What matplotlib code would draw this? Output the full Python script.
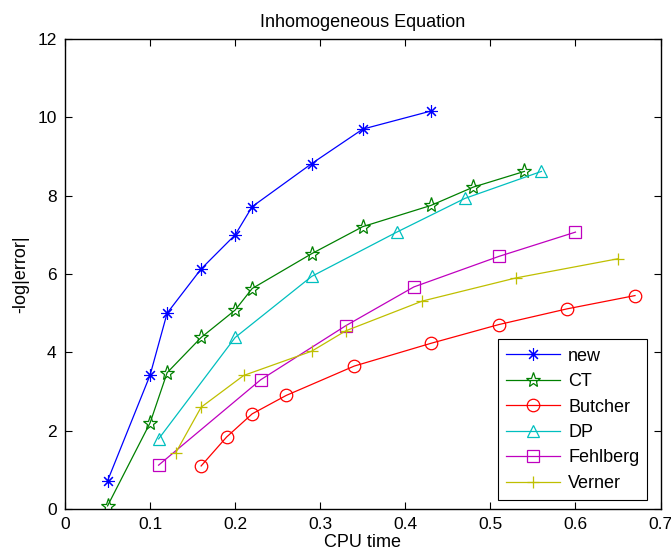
import matplotlib.pyplot as plt
import numpy as np

plt.rcParams['font.family'] = ['Liberation Sans', 'DejaVu Sans']

# data
new_x = [0.05, 0.10, 0.12, 0.16, 0.20, 0.22, 0.29, 0.35, 0.43]
new_y = [0.72, 3.42, 5.00, 6.13, 7.00, 7.72, 8.82, 9.70, 10.16]

ct_x = [0.05, 0.10, 0.12, 0.16, 0.20, 0.22, 0.29, 0.35, 0.43, 0.48, 0.54]
ct_y = [0.08, 2.20, 3.48, 4.38, 5.08, 5.63, 6.52, 7.21, 7.75, 8.22, 8.62]

butcher_x = [0.16, 0.19, 0.22, 0.26, 0.34, 0.43, 0.51, 0.59, 0.67]
butcher_y = [1.10, 1.84, 2.43, 2.90, 3.65, 4.23, 4.71, 5.11, 5.45]

dp_x = [0.11, 0.20, 0.29, 0.39, 0.47, 0.56]
dp_y = [1.79, 4.38, 5.94, 7.07, 7.93, 8.62]

fehlberg_x = [0.11, 0.23, 0.33, 0.41, 0.51, 0.60]
fehlberg_y = [1.12, 3.30, 4.68, 5.67, 6.45, 7.07]

verner_x = [0.13, 0.16, 0.21, 0.29, 0.33, 0.42, 0.53, 0.65]
verner_y = [1.43, 2.60, 3.41, 4.03, 4.55, 5.31, 5.90, 6.39]

xticks = [0, 0.1, 0.2, 0.3, 0.4, 0.5, 0.6, 0.7]
xticklabels = ['0', '0.1', '0.2', '0.3', '0.4', '0.5', '0.6', '0.7']
yticks = [0, 2, 4, 6, 8, 10, 12]

fig = plt.figure(figsize=(6.71, 5.59), dpi=100)
ax = fig.add_axes([0.0969, 0.0894, 0.8875, 0.8408])

lw = 0.9
ms = 9
ax.plot(new_x, new_y, color=(0, 0, 1), lw=lw, marker=(8, 2, 0), ms=ms, mew=0.8, label='new')
ax.plot(ct_x, ct_y, color=(0, 0.5, 0), lw=lw, marker='*', ms=11, mfc='none', mew=0.9, label='CT')
ax.plot(butcher_x, butcher_y, color=(1, 0, 0), lw=lw, marker='o', ms=ms, mfc='none', mew=0.9, label='Butcher')
ax.plot(dp_x, dp_y, color=(0, 0.75, 0.75), lw=lw, marker='^', ms=ms, mfc='none', mew=0.9, label='DP')
ax.plot(fehlberg_x, fehlberg_y, color=(0.75, 0, 0.75), lw=lw, marker='s', ms=8, mfc='none', mew=0.9, label='Fehlberg')
ax.plot(verner_x, verner_y, color=(0.75, 0.75, 0), lw=lw, marker='+', ms=ms, mew=0.9, label='Verner')

ax.set_xlim(0, 0.7)
ax.set_ylim(0, 12)
ax.set_xticks(xticks)
ax.set_xticklabels(xticklabels)
ax.set_yticks(yticks)
ax.tick_params(direction='in', top=True, right=True, length=5, width=0.8, labelsize=12.5, pad=6)
for s in ax.spines.values():
    s.set_linewidth(1.0)

ax.set_title('Inhomogeneous Equation', fontsize=13, pad=9)
ax.set_xlabel('CPU time', fontsize=13, labelpad=1)
ax.set_ylabel('-log|error|', fontsize=13, labelpad=6)

leg = ax.legend(loc='lower right', bbox_to_anchor=(0.978, 0.019), fontsize=13,
                fancybox=False, framealpha=1, edgecolor='black', handlelength=3,
                borderaxespad=0, labelspacing=0.47, handletextpad=0.45, borderpad=0.45)
leg.get_frame().set_linewidth(0.8)

fig.savefig('out.png', dpi=100)
